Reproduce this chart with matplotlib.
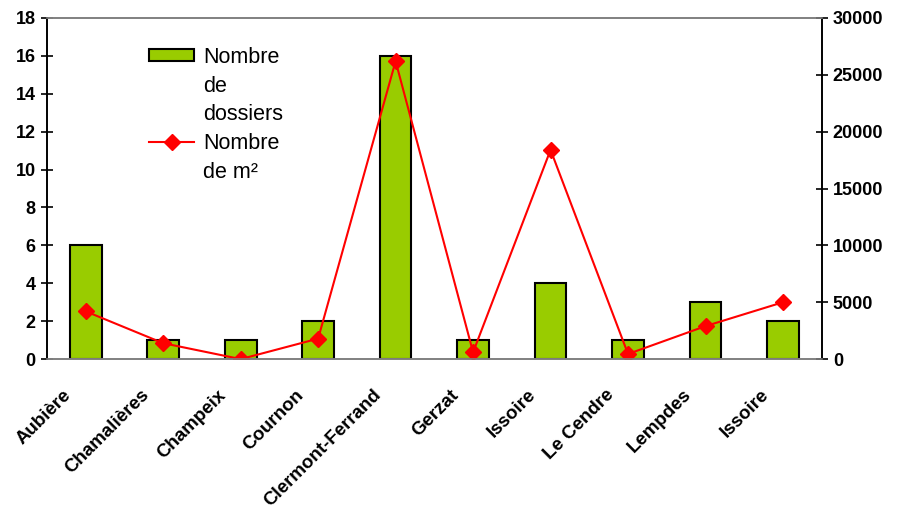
import numpy as np
import matplotlib.pyplot as plt
import matplotlib.transforms as mtransforms
from matplotlib.patches import Rectangle
from matplotlib.lines import Line2D

plt.rcParams['font.family'] = ['Liberation Sans', 'DejaVu Sans']

communes = ['Aubière', 'Chamalières', 'Champeix', 'Cournon', 'Clermont-Ferrand',
            'Gerzat', 'Issoire', 'Le Cendre', 'Lempdes', 'Issoire']
dossiers = [6, 1, 1, 2, 16, 1, 4, 1, 3, 2]
surface_m2 = [4200, 1400, 0, 1800, 26200, 600, 18400, 450, 2900, 5000]

fig = plt.figure(figsize=(9.03, 5.13), dpi=100)
ax = fig.add_axes([0.052, 0.300, 0.858, 0.665])
ax2 = ax.twinx()

x = np.arange(len(communes))
ax.bar(x, dossiers, width=0.41, color='#99CC00', edgecolor='black', linewidth=1.5)
ax2.plot(x, surface_m2, color='red', linewidth=1.5, marker='D', markersize=8,
         markeredgecolor='red', markerfacecolor='red')

ax.set_xlim(-0.5, len(communes) - 0.5)
ax.set_ylim(0, 18)
ax.set_yticks(range(0, 19, 2))
ax2.set_ylim(0, 30000)
ax2.set_yticks(range(0, 30001, 5000))

for a in (ax, ax2):
    a.spines['top'].set_color('#808080')
    a.spines['bottom'].set_color('#808080')
    a.spines['left'].set_color('black')
    a.spines['right'].set_color('black')
    for s in a.spines.values():
        s.set_linewidth(1.2)

ax.tick_params(axis='y', direction='inout', length=9, width=1.2, labelsize=13)
ax2.tick_params(axis='y', direction='inout', length=9, width=1.2, labelsize=13)
for lab in ax.get_yticklabels() + ax2.get_yticklabels():
    lab.set_fontweight('bold')

ax.set_xticks(x)
ax.set_xticklabels(communes, rotation=45, ha='right', va='center', rotation_mode='anchor',
                   fontsize=13.5, fontweight='bold')
ax.tick_params(axis='x', length=0, pad=24)
shift = mtransforms.ScaledTranslation(-17 / 100, 0, fig.dpi_scale_trans)
for lab in ax.get_xticklabels():
    lab.set_transform(lab.get_transform() + shift)

# legende : une ligne par entree pour imiter le retour a la ligne
blank = Rectangle((0, 0), 1, 1, fill=False, edgecolor='none', visible=False)
handles = [Rectangle((0, 0), 1, 1, facecolor='#99CC00', edgecolor='black', linewidth=1.5),
           blank, blank,
           Line2D([], [], color='red', linewidth=1.5, marker='D', markersize=8),
           blank]
labels = ['Nombre', 'de', 'dossiers', 'Nombre', 'de m²']
ax.legend(handles, labels, loc='upper left', bbox_to_anchor=(0.132, 0.915), frameon=False,
          fontsize=15.5, handlelength=2.1, handleheight=0.5, handletextpad=0.4,
          labelspacing=0.36, borderpad=0, borderaxespad=0)

fig.savefig('out.png', dpi=100)
